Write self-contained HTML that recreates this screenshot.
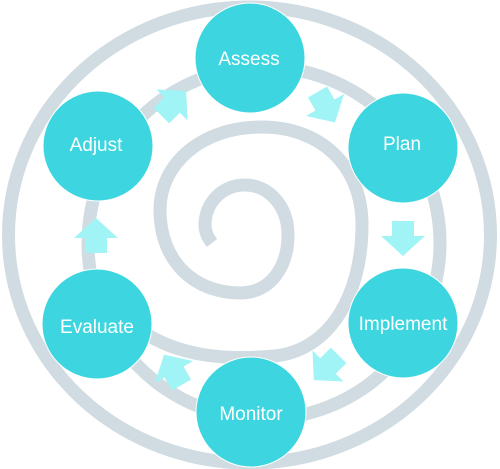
<!DOCTYPE html>
<html><head><meta charset="utf-8"><style>
html,body{margin:0;padding:0;background:#fff;width:500px;height:469px;overflow:hidden}
text{font-family:"Liberation Sans Narrow","Liberation Sans",sans-serif;font-size:19px;fill:#fff;text-anchor:middle}
</style></head><body>
<svg width="500" height="469" viewBox="0 0 500 469">
<g fill="none" stroke="#d0dce2" stroke-width="13">
<ellipse cx="249.5" cy="235" rx="241" ry="228"/>
<ellipse cx="264" cy="243" rx="176" ry="176"/>
<path d="M140,330 C180,358 230,360 275,356 C330,350 362,295 362,225 C362,165 320,127 262,127 C200,127 160,165 160,210 C160,262 195,293 240,293 C272,293 288,265 288,235 C288,205 268,185 245,185 C222,185 205,203 205,225 C205,232 208,238 212,243"/>
</g>
<g fill="#a0f4f6">
<polygon points="0,-20 22,0 11,0 11,15 -11,15 -11,0 -22,0" transform="translate(325,105) rotate(150)"/>
<polygon points="0,-20 22,0 11,0 11,15 -11,15 -11,0 -22,0" transform="translate(403,236) rotate(180)"/>
<polygon points="0,-20 22,0 11,0 11,15 -11,15 -11,0 -22,0" transform="translate(328,366) rotate(225)"/>
<polygon points="0,-20 22,0 11,0 11,15 -11,15 -11,0 -22,0" transform="translate(174,372) rotate(-30)"/>
<polygon points="0,-20 22,0 11,0 11,15 -11,15 -11,0 -22,0" transform="translate(96,238)"/>
<polygon points="0,-20 22,0 11,0 11,15 -11,15 -11,0 -22,0" transform="translate(172,105) rotate(45)"/>
</g>
<g fill="#3dd6e0" stroke="#fff" stroke-width="1">
<circle cx="250" cy="58" r="55"/>
<circle cx="403" cy="148" r="55"/>
<circle cx="403" cy="323" r="55"/>
<circle cx="251" cy="412" r="55"/>
<circle cx="97" cy="324" r="55"/>
<circle cx="98" cy="146" r="55"/>
</g>
<text x="249" y="65">Assess</text>
<text x="402" y="150">Plan</text>
<text x="403" y="330">Implement</text>
<text x="251" y="420">Monitor</text>
<text x="97" y="333">Evaluate</text>
<text x="96" y="151">Adjust</text>
</svg>
</body></html>
